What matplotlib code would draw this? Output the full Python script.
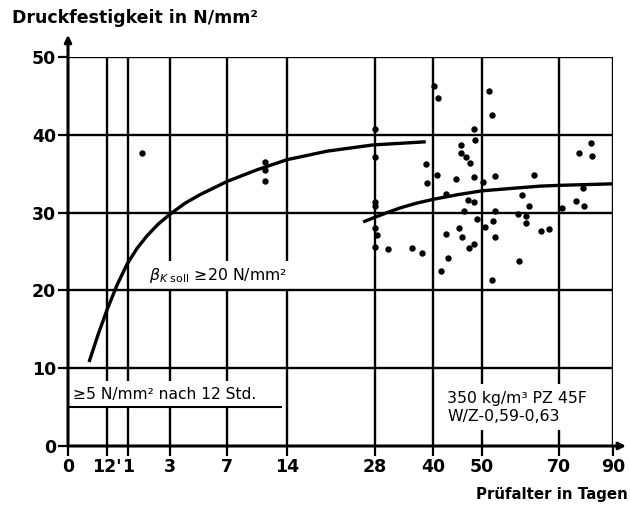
import numpy as np
import matplotlib
matplotlib.use('Agg')
import matplotlib.pyplot as plt

# ─── Data ────────────────────────────────────────────────────────────────────
# x axis: test age in days (12' = 12 hours = 0.5 days), non-uniform scale
tick_days   = [0, 0.5, 1, 3, 7, 14, 28, 40, 50, 70, 90]
tick_labels = ['0', "12'", '1', '3', '7', '14', '28', '40', '50', '70', '90']
tick_pos    = [0, 39, 60, 102, 159, 219, 307, 365, 414, 491, 545]   # scale positions

y_ticks = [0, 10, 20, 30, 40, 50]

# target strength curve (rapid hardening)
curve1_days = [0.27, 0.385, 0.5, 0.74, 0.98, 1.43, 1.9, 2.43, 3, 4.05, 5.1,
               7, 10.5, 14, 20.4, 27.7, 38.5]
curve1_vals = [10.8, 14.3, 17.5, 20.7, 23.4, 25.4, 27.0, 28.5, 29.8, 31.2, 32.3,
               34.0, 35.5, 36.8, 37.9, 38.7, 39.1]

# later-age trend curve
curve2_days = [26.1, 28, 30.5, 33.2, 36.5, 40, 45, 50, 55, 59.9, 65, 70, 80, 90]
curve2_vals = [28.8, 29.4, 30.0, 30.6, 31.2, 31.7, 32.3, 32.8, 33.0, 33.2, 33.4, 33.5,
               33.6, 33.7]

# measured values
pts_days = [11.4, 11.4, 11.4, 1.65,
            28, 28, 28, 28, 28, 28.5, 28,
            30.6, 35.6, 37.7, 38.6, 38.8,
            40.3, 41.1, 40.8, 42.6, 42.6, 43.1, 41.6, 44.6, 45.7, 45.7,
            46.8, 47.6, 45.4, 45.9, 46.3, 47.2, 48.4, 47.3, 48.4, 48.4,
            48.6, 48.4, 48.9, 50.3, 51.9, 52.5, 53.5, 50.8, 52.8, 53.5,
            53.5, 52.7, 59.7, 60.3, 62.1, 59.4, 61.4, 61.4, 63.5, 65.2,
            67.5, 71.2, 76.2, 79.4, 79.0, 77.4, 81.7, 82.1]
pts_vals = [36.5, 35.5, 34.1, 37.6,
            40.8, 37.1, 31.4, 30.8, 28.0, 27.1, 25.6,
            25.3, 25.5, 24.8, 36.2, 33.8,
            46.3, 44.7, 34.8, 32.4, 27.2, 24.2, 22.5, 34.3, 38.7, 37.7,
            37.1, 36.4, 28.0, 26.8, 30.2, 31.6, 31.3, 25.5, 25.9, 40.7,
            39.3, 34.6, 29.2, 33.9, 45.6, 42.6, 34.7, 28.1, 28.9, 30.2,
            26.8, 21.4, 23.8, 32.2, 30.8, 29.8, 29.5, 28.7, 34.8, 27.6,
            27.9, 30.6, 31.5, 30.9, 33.1, 37.7, 38.9, 37.3]

req_early_val, req_early_end = 5, 13.4

# ─── Canvas ──────────────────────────────────────────────────────────────────
fig = plt.figure(figsize=(6.3, 5.12), dpi=100, facecolor='white')
ax = fig.add_axes([68 / 630, 66 / 512, 545 / 630, 389 / 512])

def fwd(d):
    return np.interp(d, tick_days, tick_pos)

def inv(p):
    return np.interp(p, tick_pos, tick_days)

ax.set_xscale('function', functions=(fwd, inv))
ax.set_xlim(0, 90)
ax.set_ylim(0, 50)
for s in ax.spines.values():
    s.set_visible(False)

BOLD = dict(fontfamily='DejaVu Sans', fontweight='bold')

ax.set_xticks(tick_days)
ax.set_xticklabels(tick_labels, fontsize=12.5, **BOLD)
ax.set_yticks(y_ticks)
ax.set_yticklabels([str(v) for v in y_ticks], fontsize=12.5, **BOLD)
ax.xaxis.set_minor_locator(matplotlib.ticker.NullLocator())
ax.tick_params(axis='both', direction='out', length=7, width=1.6, pad=1.5, color='black')

# ─── Grid ────────────────────────────────────────────────────────────────────
for d in tick_days[1:]:
    ax.axvline(d, color='black', lw=1.7, zorder=1)
for v in y_ticks[1:]:
    ax.axhline(v, color='black', lw=1.7, zorder=3)
ax.hlines(req_early_val, 0, req_early_end, color='black', lw=1.5, zorder=3)

# axes with arrows
ax.annotate('', xy=(0, 1.057), xytext=(0, 0), xycoords='axes fraction',
            arrowprops=dict(arrowstyle='-|>', lw=2.2, color='black',
                            mutation_scale=10, shrinkA=0, shrinkB=0),
            annotation_clip=False, zorder=5)
ax.annotate('', xy=(1.024, 0), xytext=(0, 0), xycoords='axes fraction',
            arrowprops=dict(arrowstyle='-|>', lw=2.2, color='black',
                            mutation_scale=10, shrinkA=0, shrinkB=0),
            annotation_clip=False, zorder=5)

# ─── Curves & points ─────────────────────────────────────────────────────────
ax.plot(curve1_days, curve1_vals, color='black', lw=2.4, solid_capstyle='butt',
        solid_joinstyle='round', zorder=4)
ax.plot(curve2_days, curve2_vals, color='black', lw=2.4, solid_capstyle='butt',
        solid_joinstyle='round', zorder=4)
ax.plot(pts_days, pts_vals, 'o', color='black', ms=4.6, mew=0, zorder=4)

# ─── Annotations ─────────────────────────────────────────────────────────────
ax.text(0.06, 6.65, '≥5 N/mm² nach 12 Std.', fontsize=11.2, fontfamily='DejaVu Sans',
        ha='left', va='center', zorder=2,
        bbox=dict(facecolor='white', edgecolor='none', pad=4.5))
ax.text(2.0, 21.9, r'$\beta_{K\ \mathrm{soll}}$ ≥20 N/mm²', fontsize=11.3,
        fontfamily='DejaVu Sans', ha='left', va='center', zorder=2,
        bbox=dict(facecolor='white', edgecolor='none', pad=3.5))
ax.text(42.9, 5.0, '350 kg/m³ PZ 45F\nW/Z-0,59-0,63', fontsize=11.3,
        fontfamily='DejaVu Sans', ha='left', va='center', linespacing=1.25, zorder=2,
        bbox=dict(facecolor='white', edgecolor='none', pad=4.5))

fig.text(12 / 630, 1 - 18 / 512, 'Druckfestigkeit in N/mm²', fontsize=12.5,
         ha='left', va='center', **BOLD)
fig.text(628 / 630, 1 - 494 / 512, 'Prüfalter in Tagen', fontsize=10.8,
         ha='right', va='center', **BOLD)

fig.savefig('out.png', dpi=100, facecolor='white')
plt.close(fig)
